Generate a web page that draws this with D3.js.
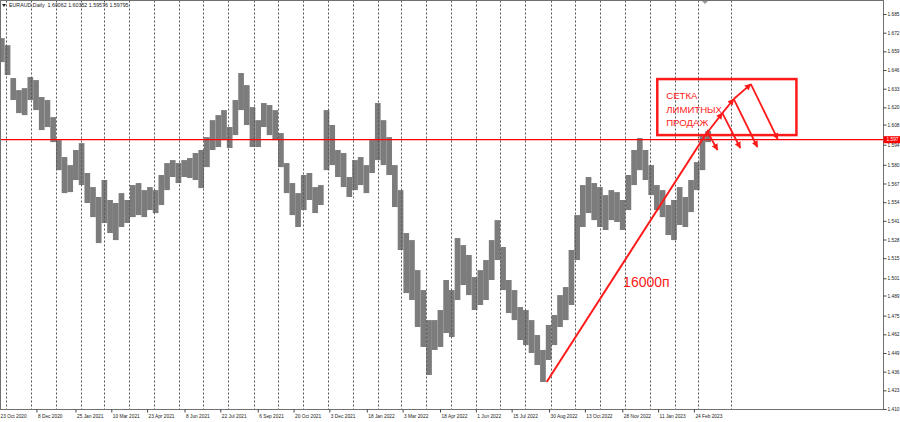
<!DOCTYPE html>
<html><head><meta charset="utf-8">
<script src="https://cdn.jsdelivr.net/npm/d3@7"></script>
<style>html,body{margin:0;padding:0;background:#fff;}svg{display:block;}</style>
</head><body>
<svg id="c" width="900" height="422"></svg>
<script>
// ---------- data ----------
const title = "EURAUD,Daily  1.60062 1.60352 1.59576 1.59795";
const firstWeek = "2020-10-23";
const weekHigh = [1.6682,1.6633,1.6404,1.6320,1.6334,1.6411,1.6390,1.6272,1.6251,1.6132,
1.5972,1.5854,1.5798,1.5903,1.5951,1.5743,1.5645,1.5576,1.5694,1.5555,
1.5534,1.5603,1.5555,1.5659,1.5673,1.5624,1.5645,1.5624,1.5729,1.5812,
1.5833,1.5812,1.5833,1.5847,1.5882,1.5903,1.5993,1.6111,1.6146,1.6181,
1.6063,1.6251,1.6439,1.6355,1.6202,1.6111,1.6230,1.6216,1.6181,1.6021,
1.5812,1.5673,1.5603,1.5729,1.5743,1.5645,1.5659,1.6181,1.6077,1.5903,
1.5882,1.5715,1.5833,1.5854,1.5798,1.5972,1.6230,1.6111,1.5993,1.5798,
1.5624,1.5325,1.5276,1.5067,1.4928,1.4719,1.4719,1.4789,1.4998,1.4928,
1.5290,1.5241,1.5172,1.5019,1.5067,1.5137,1.5276,1.5415,1.5228,1.4998,
1.4928,1.4810,1.4789,1.4719,1.4615,1.4511,1.4685,1.4754,1.4893,1.4949,
1.5207,1.5450,1.5659,1.5715,1.5673,1.5645,1.5589,1.5624,1.5610,1.5555,
1.5729,1.5903,1.5986,1.5903,1.5798,1.5659,1.5624,1.5520,1.5555,1.5645,
1.5576,1.5694,1.5819,1.6007,1.6035];
const weekLow = [1.6515,1.6425,1.6251,1.6160,1.6146,1.6251,1.6181,1.6042,1.6063,1.5958,
1.5763,1.5603,1.5610,1.5694,1.5659,1.5534,1.5436,1.5255,1.5395,1.5325,
1.5276,1.5367,1.5395,1.5436,1.5450,1.5436,1.5485,1.5464,1.5520,1.5624,
1.5715,1.5673,1.5715,1.5708,1.5694,1.5638,1.5784,1.5903,1.5924,1.5972,
1.5917,1.6007,1.6181,1.6077,1.5924,1.5924,1.6063,1.6007,1.5972,1.5784,
1.5603,1.5450,1.5367,1.5485,1.5555,1.5464,1.5520,1.5763,1.5798,1.5715,
1.5645,1.5576,1.5624,1.5659,1.5603,1.5743,1.5833,1.5798,1.5729,1.5506,
1.5207,1.4907,1.4859,1.4671,1.4532,1.4337,1.4511,1.4532,1.4629,1.4601,
1.4859,1.4963,1.4893,1.4789,1.4824,1.4859,1.4998,1.5137,1.4928,1.4768,
1.4719,1.4580,1.4545,1.4490,1.4406,1.4288,1.4441,1.4545,1.4671,1.4719,
1.4824,1.5137,1.5367,1.5464,1.5415,1.5367,1.5346,1.5415,1.5402,1.5346,
1.5485,1.5659,1.5763,1.5694,1.5589,1.5485,1.5436,1.5311,1.5276,1.5381,
1.5367,1.5471,1.5624,1.5763,1.5958];

const yTickLabels = ["1.410","1.423","1.436","1.449","1.462","1.475","1.489","1.501","1.515","1.528","1.541",
"1.554","1.567","1.580","1.594","1.608","1.620","1.633","1.646","1.659","1.672","1.685"];
const xTickDates = ["2020-10-23","2020-12-08","2021-01-25","2021-03-10","2021-04-23","2021-06-08","2021-07-22",
"2021-09-06","2021-10-20","2021-12-03","2022-01-18","2022-03-03","2022-04-18","2022-06-01","2022-07-15",
"2022-08-30","2022-10-13","2022-11-28","2023-01-11","2023-02-24"];
const xTickLabels = ["23 Oct 2020","8 Dec 2020","25 Jan 2021","10 Mar 2021","23 Apr 2021","8 Jun 2021","22 Jul 2021",
"6 Sep 2021","20 Oct 2021","3 Dec 2021","18 Jan 2022","3 Mar 2022","18 Apr 2022","1 Jun 2022","15 Jul 2022",
"30 Aug 2022","13 Oct 2022","28 Nov 2022","11 Jan 2023","24 Feb 2023"];
const lastPrice = 1.5975;
const lastPriceLabel = "1.597";
const extraVLine = "2023-04-11";

// annotations (date, price)
const trendLine = [["2022-08-27",1.4288],["2023-03-14",1.6042]];
const trendLabel = {text:"16000п", date:"2022-11-29", price:1.4949};
const gridUp = [["2023-03-13",1.6028],["2023-03-31",1.6160],["2023-04-14",1.6258],["2023-05-05",1.6362]];
const gridDown = [["2023-03-25",1.5903],["2023-04-22",1.5917],["2023-05-13",1.5924],["2023-06-07",1.5979]];
const boxCorners = [["2023-01-10",1.6397],["2023-06-30",1.6007]];
const boxText = {lines:["СЕТКА","ЛИМИТНЫХ","ПРОДАЖ"], date:"2023-01-21", price:1.6258};

// ---------- chart ----------
const parse = d3.timeParse("%Y-%m-%d");
const W = 900, H = 422;
const plotL = 0.5, plotR = 883.5, plotT = 0.5, plotB = 409.5;
const svg = d3.select("#c");
const t0 = parse(firstWeek);
const x = d3.scaleTime().domain([t0, d3.timeDay.offset(t0, 1000)]).range([-1, -1 + 813.7]);
const y = d3.scaleLinear().domain([1.410, 1.685]).range([409, 14]);
const FONT = "'Liberation Sans', Arial, sans-serif";

svg.append("rect").attr("width", W).attr("height", H).attr("fill", "#fff");

const clip = svg.append("defs").append("clipPath").attr("id","pc")
  .append("rect").attr("x",plotL).attr("y",plotT).attr("width",plotR-plotL).attr("height",plotB-plotT);

const plot = svg.append("g").attr("clip-path","url(#pc)");

// weekly price bars
const weeks = weekHigh.map((h,i)=>({d:d3.timeDay.offset(t0,7*i), h, l:weekLow[i]}));
plot.append("g").selectAll("rect").data(weeks).join("rect")
  .attr("x", d=>x(d.d))
  .attr("width", d=>x(d3.timeDay.offset(d.d,7))-x(d.d))
  .attr("y", d=>y(d.h))
  .attr("height", d=>Math.max(1,y(d.l)-y(d.h)))
  .attr("fill", "#7c7c7c");

// month separators
const months = d3.timeMonth.range(new Date(2020,10,1), new Date(2023,3,1)).concat([parse(extraVLine)]);
plot.append("g").selectAll("line").data(months).join("line")
  .attr("x1", d=>Math.round(x(d))+0.5).attr("x2", d=>Math.round(x(d))+0.5)
  .attr("y1", plotT).attr("y2", plotB)
  .attr("stroke", "#555").attr("stroke-width", 1).attr("stroke-dasharray", "2,2");

// current price line
plot.append("line").attr("x1",plotL).attr("x2",plotR)
  .attr("y1", y(lastPrice)).attr("y2", y(lastPrice))
  .attr("stroke","#ff0000").attr("stroke-width",1.2);

// frame
svg.append("rect").attr("x",plotL).attr("y",plotT).attr("width",plotR-plotL).attr("height",plotB-plotT)
  .attr("fill","none").attr("stroke","#707070").attr("stroke-width",1);

// y axis
const yAxis = d3.axisRight(y).tickValues(yTickLabels.map(Number)).tickSize(3).tickSizeOuter(0)
  .tickFormat((d,i)=>yTickLabels[i]);
const gy = svg.append("g").attr("transform",`translate(${plotR},0)`).call(yAxis);
gy.select(".domain").remove();
gy.selectAll(".tick line").attr("stroke","#444");
gy.selectAll(".tick text").attr("x",4).attr("fill","#222")
  .style("font-family",FONT).style("font-size","4.8px");

// current price label
svg.append("rect").attr("x",plotR).attr("y",y(lastPrice)-3.5).attr("width",W-plotR).attr("height",7).attr("fill","#ff0000");
svg.append("text").attr("x",plotR+3).attr("y",y(lastPrice)).attr("dy","0.35em")
  .attr("fill","#fff").style("font-family",FONT).style("font-size","4.8px").text(lastPriceLabel);

// x axis
const xAxis = d3.axisBottom(x).tickValues(xTickDates.map(parse)).tickSize(3).tickSizeOuter(0)
  .tickFormat((d,i)=>xTickLabels[i]);
const gx = svg.append("g").attr("transform",`translate(0,${plotB})`).call(xAxis);
gx.select(".domain").remove();
gx.selectAll(".tick line").attr("stroke","#444");
gx.selectAll(".tick text").attr("text-anchor","start").attr("x",1).attr("y",5).attr("dy","0.71em")
  .attr("fill","#222").style("font-family",FONT).style("font-size","4.8px");

// title
svg.append("path").attr("d","M2,4 L6,4 L4,7 Z").attr("fill","#222");
svg.append("text").attr("x",9).attr("y",7.3).attr("fill","#222")
  .style("font-family",FONT).style("font-size","5.3px").attr("xml:space","preserve").text(title);
// chart shift marker
svg.append("path").attr("d","M702,1 L708,1 L705,4 Z").attr("fill","#999");

// ---------- annotations ----------
const RED = "#ff1a1a";
const defs = svg.select("defs");
defs.append("marker").attr("id","arr").attr("viewBox","0 0 10 10").attr("refX",9).attr("refY",5)
  .attr("markerWidth",8).attr("markerHeight",6.5).attr("markerUnits","userSpaceOnUse").attr("orient","auto")
  .append("path").attr("d","M0,0 L10,5 L0,10 Z").attr("fill",RED);

const P = p => [x(parse(p[0])), y(p[1])];
const line = d3.line();
svg.append("path").attr("d", line(trendLine.map(P))).attr("stroke",RED).attr("stroke-width",2).attr("fill","none");
svg.append("text").attr("x",x(parse(trendLabel.date))).attr("y",y(trendLabel.price))
  .attr("fill",RED).style("font-family",FONT).style("font-size","14px").text(trendLabel.text);

// box
const b0 = P(boxCorners[0]), b1 = P(boxCorners[1]);
svg.append("rect").attr("x",b0[0]).attr("y",b0[1]).attr("width",b1[0]-b0[0]).attr("height",b1[1]-b0[1])
  .attr("fill","none").attr("stroke",RED).attr("stroke-width",2.5);
const bt = svg.append("text").attr("x",x(parse(boxText.date))).attr("y",y(boxText.price))
  .attr("fill",RED).style("font-family",FONT).style("font-size","9.6px");
boxText.lines.forEach((s,i)=>bt.append("tspan").attr("x",x(parse(boxText.date))).attr("dy", i? "1.42em":0).text(s));

// zigzag arrows
for (let i=0;i<gridUp.length;i++){
  if (i>0) {
    svg.append("path").attr("d", line([P(gridUp[i-1]),P(gridUp[i])])).attr("stroke",RED).attr("stroke-width",1.8)
      .attr("fill","none").attr("marker-end","url(#arr)");
  }
  svg.append("path").attr("d", line([P(gridUp[i]),P(gridDown[i])])).attr("stroke",RED).attr("stroke-width",1.8)
    .attr("fill","none").attr("marker-end","url(#arr)");
}
</script>
</body></html>
